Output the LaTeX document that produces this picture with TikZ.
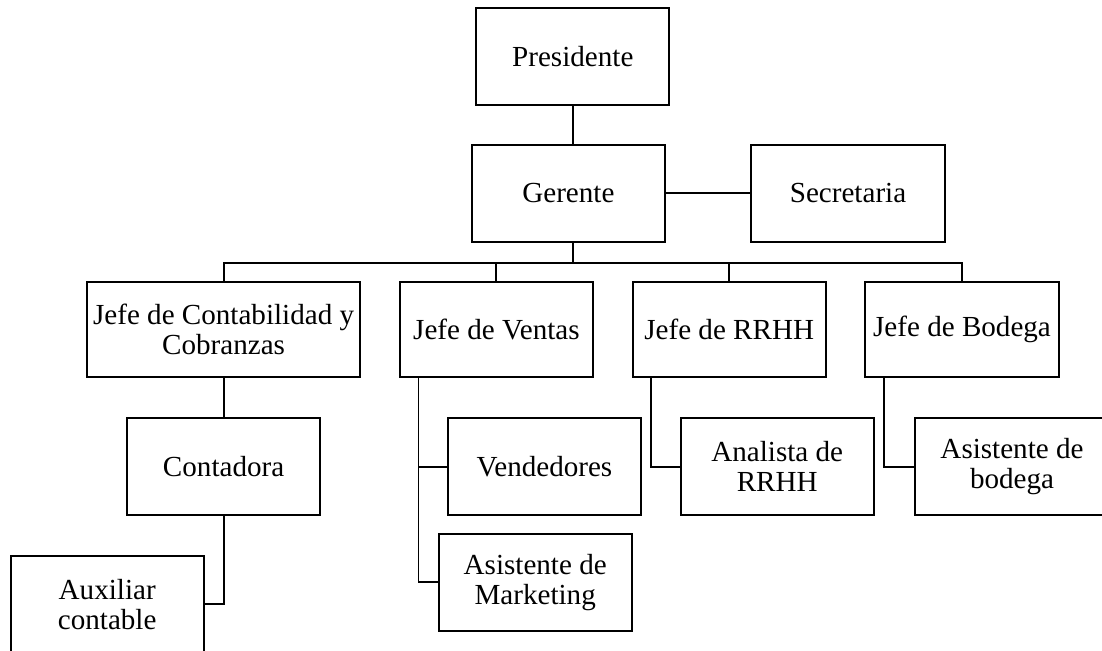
\documentclass[tikz,border=0pt]{standalone}
\usepackage{fontspec}
\setmainfont{Liberation Serif}
\usepackage{tikz}
\usetikzlibrary{calc}

\begin{document}
\begin{tikzpicture}[
    font=\fontsize{20.7}{21.3}\selectfont,
    % Node styles - plain organigram boxes
    postbox/.style={draw, fill=white, align=center, inner sep=2pt, minimum width=4.83cm, minimum height=2.42cm, line width=1.4pt},
    jefebox/.style={postbox, minimum height=2.39cm},
    link/.style={line width=1.3pt, color=black}
]

% fixed page frame
\useasboundingbox (0,0) rectangle (27.55,-16.25);
\clip (0,0) rectangle (27.55,-16.25);

% ========== TOP: Direction ==========
\node[postbox] (pres) at (14.32, -1.42) {Presidente};
\node[postbox] (ger) at (14.21, -4.83) {Gerente};
\node[postbox] (sec) at (21.20, -4.83) {Secretaria};

% ========== LEVEL 2: Department heads ==========
\node[jefebox, minimum width=6.82cm] (contab) at (5.59, -8.24) {Jefe de Contabilidad y\\Cobranzas};
\node[jefebox] (ventas) at (12.41, -8.24) {Jefe de Ventas};
\node[jefebox] (rrhh) at (18.23, -8.24) {Jefe de RRHH};
\node[jefebox] (bodega) at (24.05, -8.24) {Jefe de Bodega};

% ========== LEVEL 3: Staff ==========
\node[postbox] (contadora) at (5.59, -11.67) {Contadora};
\node[postbox] (auxiliar) at (2.68, -15.11) {Auxiliar\\contable};
\node[postbox] (vendedores) at (13.61, -11.67) {Vendedores};
\node[postbox] (marketing) at (13.38, -14.56) {Asistente de\\Marketing};
\node[postbox] (analista) at (19.43, -11.67) {Analista de\\RRHH};
\node[postbox] (asisbod) at (25.30, -11.67) {Asistente de\\bodega};

% ========== CONNECTORS ==========
% Presidente to Gerente, Gerente to Secretaria
\draw[link] (pres.south) -- (pres.south |- ger.north);
\draw[link] (ger.east) -- (sec.west);

% Gerente to the heads (bus)
\coordinate (bus) at ($(ger.south -| pres.south)+(0,-0.5)$);
\draw[link] (ger.south -| pres.south) -- (bus);
\draw[link] (contab.north) |- (bus) -| (bodega.north);
\draw[link] (ventas.north) -- (ventas.north |- bus);
\draw[link] (rrhh.north) -- (rrhh.north |- bus);

% Contabilidad branch
\draw[link] (contab.south) -- (contab.south |- contadora.north);
\draw[link] (contadora.south) |- (auxiliar.east);

% Ventas branch
\coordinate (vtrunk) at ($(ventas.south west)+(0.49,0)$);
\draw[link] (vtrunk) |- (vendedores.west);
\draw[link] (vtrunk) |- (marketing.west);

% RRHH and Bodega branches
\coordinate (rtrunk) at ($(rrhh.south west)+(0.48,0)$);
\draw[link] (rtrunk) |- (analista.west);
\coordinate (btrunk) at ($(bodega.south west)+(0.48,0)$);
\draw[link] (btrunk) |- (asisbod.west);

\end{tikzpicture}
\end{document}
